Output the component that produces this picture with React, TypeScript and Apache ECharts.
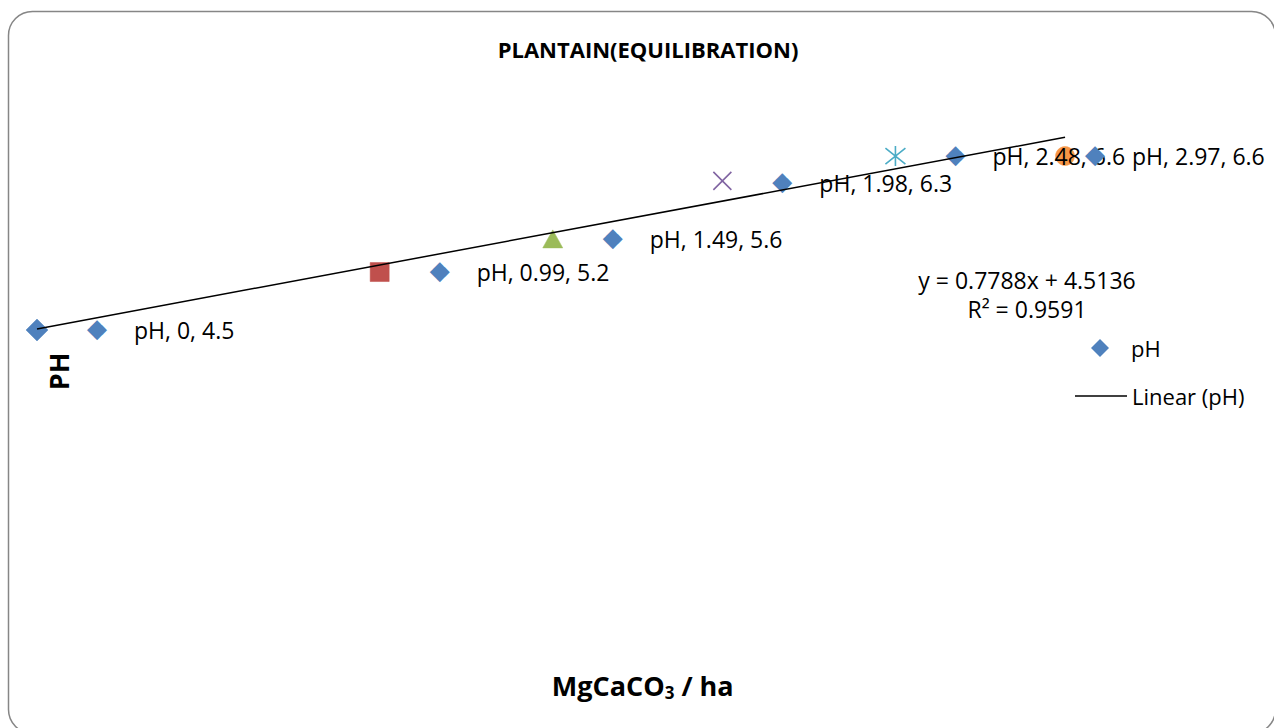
import React, { useEffect, useRef } from "react";
import * as echarts from "echarts";

const X_VALUES = [0, 0.99, 1.49, 1.98, 2.48, 2.97];
const PH_VALUES = [4.5, 5.2, 5.6, 6.3, 6.6, 6.6];
const SERIES_NAME = "pH";
const TREND_NAME = "Linear (pH)";
const TREND_SLOPE = 0.7788;
const TREND_INTERCEPT = 4.5136;
const R_SQUARED = 0.9591;
const TITLE = "PLANTAIN(EQUILIBRATION)";
const Y_TITLE = "PH";

const POINT_STYLES = [
  { symbol: "diamond", color: "#4F81BD", size: 22, offset: [50, -2] },
  { symbol: "rect", color: "#C0504D", size: 19, offset: [50, -2] },
  { symbol: "triangle", color: "#9BBB59", size: [20, 18], offset: [50, -2] },
  { symbol: "path://M0,0L10,10M10,0L0,10", color: "#8064A2", size: 18, stroke: true, offset: [50, 0] },
  { symbol: "path://M1,1L9,9M9,1L1,9M5,0L5,10", color: "#4BACC6", size: 20, stroke: true, offset: [50, -2] },
  { symbol: "circle", color: "#F79646", size: 19, offset: [20, -2] },
];

const FONT = "'Open Sans', 'Noto Sans', sans-serif";

export default function App() {
  const ref = useRef<HTMLDivElement>(null);
  useEffect(() => {
    if (!ref.current) return;
    const chart = echarts.init(ref.current, undefined, { renderer: "svg" });
    const scatterData = X_VALUES.map((x, i) => {
      const st = POINT_STYLES[i];
      return {
        value: [x, PH_VALUES[i]],
        symbol: st.symbol,
        symbolSize: st.size,
        itemStyle: st.stroke
          ? { color: "none", borderColor: st.color, borderWidth: 1.6, opacity: 1 }
          : { color: st.color, borderColor: st.color, borderWidth: 0.5, opacity: 1 },
        label: { offset: st.offset },
      };
    });
    const xMin = Math.min(...X_VALUES);
    const xMax = Math.max(...X_VALUES);
    const trendData = [
      [xMin, TREND_INTERCEPT + TREND_SLOPE * xMin],
      [xMax, TREND_INTERCEPT + TREND_SLOPE * xMax],
    ];
    chart.setOption({
      animation: false,
      textStyle: { fontFamily: FONT },
      title: {
        text: TITLE,
        left: 643,
        top: 33,
        textAlign: "center",
        textStyle: { fontFamily: FONT, fontWeight: "bold", fontSize: 22, color: "#000" },
      },
      grid: { left: 37, top: 122.9, width: 1211.5, height: 497.1, containLabel: false },
      xAxis: {
        type: "value",
        min: 0,
        max: 3.5,
        name: "{a|MgCaCO}{s|3}{a| / ha}",
        nameLocation: "middle",
        nameGap: 50,
        nameTextStyle: {
          rich: {
            a: { fontFamily: FONT, fontWeight: "bold", fontSize: 27, color: "#000" },
            s: { fontFamily: FONT, fontWeight: "bold", fontSize: 17, color: "#000", padding: [14, 0, 0, 0] },
          },
        },
        axisLine: { show: false },
        axisTick: { show: false },
        axisLabel: { show: false },
        splitLine: { show: false },
      },
      yAxis: {
        type: "value",
        min: 1,
        max: 7,
        name: Y_TITLE,
        nameLocation: "middle",
        nameGap: -35,
        nameRotate: 90,
        nameTextStyle: { fontFamily: FONT, fontWeight: "bold", fontSize: 27, color: "#000" },
        axisLine: { show: false },
        axisTick: { show: false },
        axisLabel: { show: false },
        splitLine: { show: false },
      },
      legend: [
        {
          data: [{ name: SERIES_NAME, icon: "diamond" }],
          left: 1091,
          top: 337,
          padding: 0,
          orient: "vertical",
          itemWidth: 18,
          itemHeight: 18,
          selectedMode: false,
          textStyle: { fontFamily: FONT, fontSize: 22, color: "#000", padding: [0, 0, 0, 17] },
        },
        {
          data: [{ name: TREND_NAME, icon: "rect" }],
          left: 1075,
          top: 385,
          padding: 0,
          orient: "vertical",
          itemWidth: 52,
          itemHeight: 1.5,
          selectedMode: false,
          textStyle: { fontFamily: FONT, fontSize: 22, color: "#000" },
        },
      ],
      graphic: [
        {
          type: "rect",
          shape: { x: 8.5, y: 11.5, width: 1267, height: 722, r: 24 },
          style: { fill: "none", stroke: "#868686", lineWidth: 1.5 },
          silent: true,
        },
        {
          type: "text",
          x: 1027,
          y: 280,
          style: {
            text: `y = ${TREND_SLOPE}x + ${TREND_INTERCEPT}`,
            font: `23px ${FONT}`,
            fill: "#000",
            textAlign: "center",
            textVerticalAlign: "middle",
          },
        },
        {
          type: "text",
          x: 1027,
          y: 309,
          style: {
            text: `R² = ${R_SQUARED}`,
            font: `23px ${FONT}`,
            fill: "#000",
            textAlign: "center",
            textVerticalAlign: "middle",
          },
        },
      ],
      series: [
        {
          name: SERIES_NAME,
          type: "scatter",
          data: scatterData,
          itemStyle: { color: "#4F81BD", opacity: 1 },
          z: 2,
          label: {
            show: true,
            position: "inside",
            align: "left",
            verticalAlign: "middle",
            color: "#000",
            formatter: (p: any) => `{k|◆}{t|${SERIES_NAME}, ${p.value[0]}, ${p.value[1]}}`,
            rich: {
              k: { fontFamily: "'DejaVu Sans'", fontSize: 26, color: "#4F81BD" },
              t: { fontFamily: FONT, fontSize: 23, color: "#000", padding: [4, 0, 0, 27] },
            },
          },
          emphasis: { disabled: true },
        },
        {
          name: TREND_NAME,
          type: "line",
          data: trendData,
          symbol: "none",
          lineStyle: { color: "#000", width: 1.5 },
          itemStyle: { color: "#000" },
          z: 5,
          silent: true,
        },
      ],
    });
    return () => chart.dispose();
  }, []);
  return (
    <div style={{ position: "absolute", left: 0, top: 0, width: 1274, height: 728, background: "#fff" }}>
      <div ref={ref} style={{ width: 1274, height: 728 }} />
    </div>
  );
}
